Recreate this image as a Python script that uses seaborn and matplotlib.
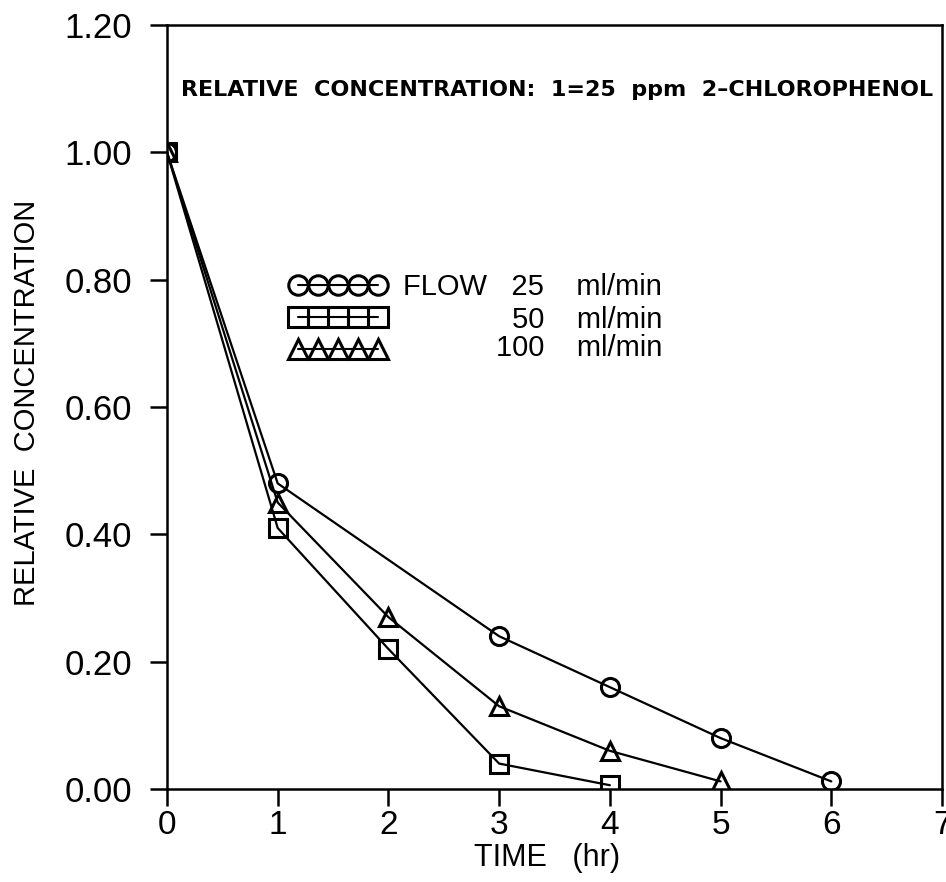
import numpy as np
import pandas as pd
import matplotlib
matplotlib.use("Agg")
import matplotlib.pyplot as plt
import seaborn as sns
from matplotlib.lines import Line2D

sns.set_theme(style="ticks")
plt.rcParams['font.family'] = ['Liberation Sans', 'DejaVu Sans']

time_25 = [0, 1, 3, 4, 5, 6]
conc_25 = [1.00, 0.48, 0.24, 0.16, 0.08, 0.012]
time_50 = [0, 1, 2, 3, 4]
conc_50 = [1.00, 0.41, 0.22, 0.04, 0.006]
time_100 = [0, 1, 2, 3, 4, 5]
conc_100 = [1.00, 0.45, 0.27, 0.13, 0.06, 0.012]

flow_labels = ["FLOW   25    ml/min", "50    ml/min", "100    ml/min"]
markers = ["o", "s", "^"]
xticks = [0, 1, 2, 3, 4, 5, 6, 7]
yticks = [0.0, 0.2, 0.4, 0.6, 0.8, 1.0, 1.2]

fig = plt.figure(figsize=(9.46, 8.82), dpi=100)
ax = fig.add_axes([0.1765, 0.1054, 0.8193, 0.8663])

series = [(time_25, conc_25), (time_50, conc_50), (time_100, conc_100)]
for (t, c), m in zip(series, markers):
    df = pd.DataFrame({"t": t, "c": c})
    sns.lineplot(data=df, x="t", y="c", ax=ax, color="black", linewidth=1.6,
                 marker=m, markersize=13, markerfacecolor="none",
                 markeredgecolor="black", markeredgewidth=2.2)

ax.set_xlim(0, 7)
ax.set_ylim(0, 1.2)
ax.set_xticks(xticks)
ax.set_xticklabels([str(v) for v in xticks])
ax.set_yticks(yticks)
ax.set_yticklabels([f"{v:.2f}" for v in yticks])
ax.tick_params(axis="both", direction="out", length=12, width=1.8,
               labelsize=24, colors="black")
ax.tick_params(axis="y", labelsize=25, pad=13)
ax.tick_params(axis="x", pad=3)
ax.tick_params(top=False, right=False)
for s in ax.spines.values():
    s.set_linewidth(1.8)
    s.set_color("black")

ax.set_xlabel("TIME   (hr)", fontsize=22, color="black")
ax.xaxis.set_label_coords(0.49, -0.071)
ax.set_ylabel("RELATIVE  CONCENTRATION", fontsize=21, color="black")
ax.yaxis.set_label_coords(-0.163, 0.506)

ax.text(0.018, 0.915, "RELATIVE  CONCENTRATION:  1=25  ppm  2\u2013CHLOROPHENOL",
        transform=ax.transAxes, fontsize=16, fontweight="bold",
        family="DejaVu Sans", ha="left", va="center", color="black")

handles = [Line2D([], [], color="black", linewidth=1.5, marker=m, markersize=14,
                  markerfacecolor="none", markeredgecolor="black",
                  markeredgewidth=2.2) for m in markers]
leg = ax.legend(handles, ["", "", ""], loc="upper left",
                bbox_to_anchor=(0.158, 0.673), numpoints=5, handlelength=3.5,
                handleheight=0.7, handletextpad=0.0, labelspacing=0.22,
                frameon=False, borderpad=0, borderaxespad=0, fontsize=20)

label_y = [0.657, 0.614, 0.577]
for lab, yy in zip(flow_labels, label_y):
    ax.text(0.639, yy, lab, transform=ax.transAxes, fontsize=21,
            ha="right", va="center", color="black")

fig.savefig("out.png", dpi=100)
